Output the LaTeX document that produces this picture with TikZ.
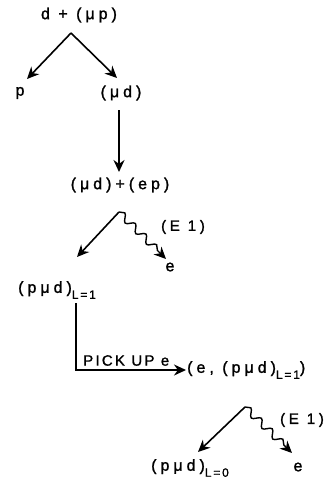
\documentclass[tikz,border=0pt]{standalone}
\usepackage{fontspec}
\setmainfont{Liberation Sans}
\newfontfamily\widefont[LetterSpace=25,FakeBold=1.5]{Liberation Sans}
\newfontfamily\subfont[LetterSpace=15,FakeBold=1.2]{Liberation Sans}
\usetikzlibrary{arrows.meta,decorations.pathmorphing}
\newcommand{\subL}[1]{\raisebox{-6pt}{\subfont\fontsize{12pt}{14pt}\selectfont #1}}
\begin{document}
\begin{tikzpicture}[x=1pt,y=-1pt,
  lbl/.style={inner sep=0pt,font=\widefont\fontsize{16pt}{19pt}\selectfont},
  small/.style={inner sep=0pt,font=\widefont\fontsize{15pt}{18pt}\selectfont},
  arr/.style={line width=1.6pt,-{Stealth[length=12pt,width=11pt]}},
  wavy/.style={line width=1.4pt,-{Stealth[length=12pt,width=11pt]},
    decorate,decoration={snake,amplitude=3.5pt,segment length=15pt,post length=9pt}}]
\useasboundingbox (0,0) rectangle (326,491);
% top
\node[lbl] (top) at (79,15) {d + (μp)};
\coordinate (a1) at (71,33);
\node[lbl] (p) at (20,93) {p};
\node[lbl] (md) at (121,93) {(μd)};
\coordinate (t1) at (27,79);
\coordinate (t2) at (117,78);
\draw[arr] (a1) -- (t1);
\draw[arr] (a1) -- (t2);
% vertical
\coordinate (v1) at (119,110);
\coordinate (t3) at (119,172);
\draw[arr] (v1) -- (t3);
\node[lbl] (mdep) at (120,185) {(μd)+(ep)};
% second split
\coordinate (a2) at (119,212);
\coordinate (t4) at (77,257);
\coordinate (t5) at (166,259);
\draw[arr] (a2) -- (t4);
\draw[wavy] (a2) -- (t5);
\node[small] (E1a) at (183,227) {(E 1)};
\node[lbl] (e1) at (170,267) {e};
\node[lbl,anchor=west] (pmd1) at (18,290) {(pμd)\subL{L=1}};
% pick up
\coordinate (v2) at (76,303);
\coordinate (c2) at (76,370);
\coordinate (t6) at (186,370);
\draw[arr] (v2) -- (c2) -- (t6);
\node[inner sep=0pt,font=\subfont\fontsize{15pt}{17pt}\selectfont,anchor=south west] (pick) at (83,366) {PICK UP e};
\node[lbl,anchor=west] (epmd) at (187,370) {(e, (pμd)\subL{L=1})};
% third split
\coordinate (a3) at (245,407);
\coordinate (t7) at (198,452);
\coordinate (t8) at (292,453);
\draw[arr] (a3) -- (t7);
\draw[wavy] (a3) -- (t8);
\node[small] (E1b) at (302,420) {(E 1)};
\node[lbl] (e2) at (298,467) {e};
\node[lbl,anchor=west] (pmd0) at (151,468) {(pμd)\subL{L=0}};
\end{tikzpicture}
\end{document}
